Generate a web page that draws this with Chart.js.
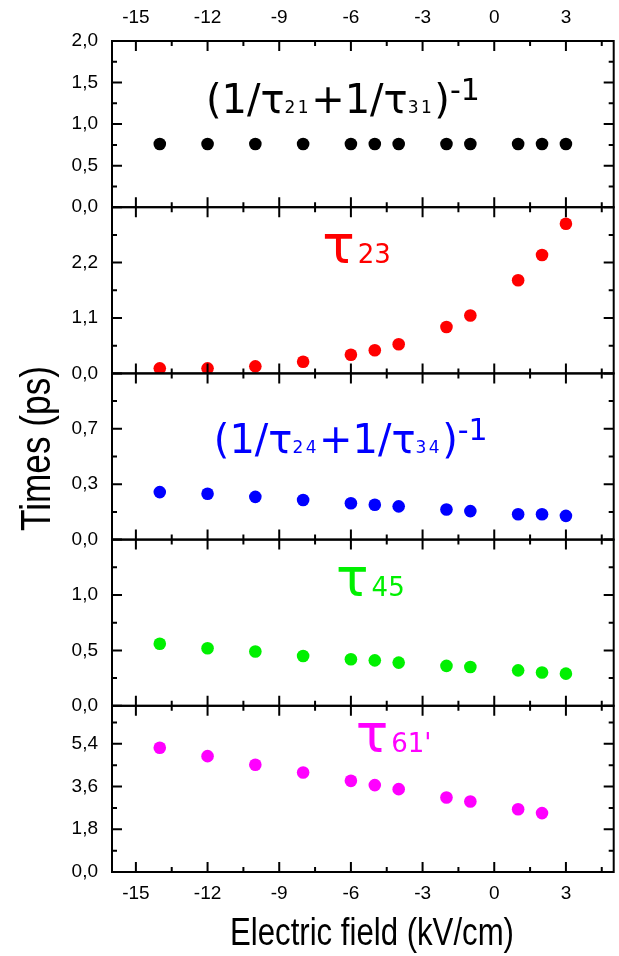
<!DOCTYPE html>
<html>
<head>
<meta charset="utf-8">
<script src="https://cdn.jsdelivr.net/npm/chart.js@4.4.1/dist/chart.umd.min.js"></script>
<style>
  html, body { margin: 0; padding: 0; background: #fff; overflow: hidden; }
  #wrap { width: 619px; height: 956px; overflow: hidden; }
</style>
</head>
<body>
<div id="wrap"><canvas id="times" width="620" height="956"></canvas></div>
<script>
// electric field values (kV/cm) shared by all five panels
const field = [-14, -12, -10, -8, -6, -5, -4, -2, -1, 1, 2, 3];

// lifetimes in ps, one array per panel (top to bottom)
const tau2131 = [0.76, 0.76, 0.76, 0.76, 0.76, 0.76, 0.76, 0.76, 0.76, 0.76, 0.76, 0.76];
const tau23 = [0.10, 0.10, 0.14, 0.23, 0.37, 0.46, 0.58, 0.92, 1.15, 1.85, 2.35, 2.97];
const tau2434 = [0.30, 0.29, 0.27, 0.25, 0.23, 0.22, 0.21, 0.19, 0.18, 0.16, 0.16, 0.15];
const tau45 = [0.56, 0.52, 0.49, 0.45, 0.42, 0.41, 0.39, 0.36, 0.35, 0.32, 0.30, 0.29];
const tau61 = [5.23, 4.88, 4.52, 4.19, 3.84, 3.66, 3.49, 3.14, 2.97, 2.64, 2.48]; // nothing at 3 kV/cm

// axis ticks
const xTicks = [-15, -12, -9, -6, -3, 0, 3];
const yTicks1 = [0, 0.5, 1.0, 1.5, 2.0];
const yTicks2 = [0, 1.1, 2.2];
const yTicks3 = [0, 0.35, 0.7];
const yTicks4 = [0, 0.5, 1.0];
const yTicks5 = [0, 1.8, 3.6, 5.4];
const yMax = [2.0, 3.3, 1.05, 1.5, 7.0];

const series = [tau2131, tau23, tau2434, tau45, tau61];
const tickSets = [yTicks1, yTicks2, yTicks3, yTicks4, yTicks5];
const colors = ['#000000', '#ff0000', '#0000ff', '#00f000', '#ff00ff'];
const yIds = ['y1', 'y2', 'y3', 'y4', 'y5'];

const plain = "'Liberation Sans', Arial, sans-serif";

Chart.defaults.color = '#000';

// panel labels, placed in data coordinates of their panel
const noteFonts = {
  main: { size: 40 },
  sub:  { size: 17, spacing: 2.5 },
  sup:  { size: 30, rise: 13 },
  tau:  { size: 54, gap: 3 },
  tsub: { size: 26 }
};
const notes = [
  { axis: 'y1', x: -12.07, y: 1.13, color: colors[0],
    parts: [['(1/', 'main'], ['τ', 'main'], ['21', 'sub'], ['+1/', 'main'], ['τ', 'main'], ['31', 'sub'], [')', 'main'], ['-1', 'sup']] },
  { axis: 'y2', x: -7.2, y: 2.19, color: colors[1], parts: [['τ', 'tau'], ['23', 'tsub']] },
  { axis: 'y3', x: -11.74, y: 0.544, color: colors[2],
    parts: [['(1/', 'main'], ['τ', 'main'], ['24', 'sub'], ['+1/', 'main'], ['τ', 'main'], ['34', 'sub'], [')', 'main'], ['-1', 'sup']] },
  { axis: 'y4', x: -6.62, y: 0.994, color: colors[3], parts: [['τ', 'tau'], ['45', 'tsub']] },
  { axis: 'y5', x: -5.8, y: 5.06, color: colors[4], parts: [['τ', 'tau'], ["61'", 'tsub']] }
];

// boxes with inward ticks on all four sides of every panel
const panelFrames = {
  id: 'panelFrames',
  afterDatasetsDraw(chart) {
    const { ctx, chartArea: { left, right } } = chart;
    const sx = chart.scales.x;
    const xMinor = [];
    for (let v = xTicks[0] - 1.5; v < sx.max; v += 3) if (v > sx.min) xMinor.push(v);
    ctx.save();
    ctx.strokeStyle = '#000';
    ctx.lineWidth = 2;
    yIds.forEach((id, i) => {
      const s = chart.scales[id];
      const ticks = tickSets[i];
      const step = ticks[1] - ticks[0];
      const yMinor = [];
      for (let v = step / 2; v < s.max - 1e-9; v += step) yMinor.push(v);
      ctx.beginPath();
      xTicks.forEach(v => {
        const p = sx.getPixelForValue(v);
        ctx.moveTo(p, s.bottom); ctx.lineTo(p, s.bottom - 10);
        ctx.moveTo(p, s.top); ctx.lineTo(p, s.top + 10);
      });
      xMinor.forEach(v => {
        const p = sx.getPixelForValue(v);
        ctx.moveTo(p, s.bottom); ctx.lineTo(p, s.bottom - 5);
        ctx.moveTo(p, s.top); ctx.lineTo(p, s.top + 5);
      });
      ticks.forEach(v => {
        const p = s.getPixelForValue(v);
        ctx.moveTo(left, p); ctx.lineTo(left + 10, p);
        ctx.moveTo(right, p); ctx.lineTo(right - 10, p);
      });
      yMinor.forEach(v => {
        const p = s.getPixelForValue(v);
        ctx.moveTo(left, p); ctx.lineTo(left + 5, p);
        ctx.moveTo(right, p); ctx.lineTo(right - 5, p);
      });
      ctx.stroke();
      ctx.strokeRect(left, s.top, right - left, s.bottom - s.top);
    });
    ctx.restore();
  }
};

const panelNotes = {
  id: 'panelNotes',
  afterDatasetsDraw(chart) {
    const ctx = chart.ctx;
    ctx.save();
    ctx.textAlign = 'left';
    ctx.textBaseline = 'alphabetic';
    notes.forEach(note => {
      let px = chart.scales.x.getPixelForValue(note.x);
      const base = chart.scales[note.axis].getPixelForValue(note.y);
      ctx.fillStyle = note.color;
      note.parts.forEach(([txt, kind]) => {
        const f = noteFonts[kind];
        ctx.font = f.size + "px 'DejaVu Sans'";
        ctx.letterSpacing = (f.spacing || 0) + 'px';
        ctx.fillText(txt, px, base - (f.rise || 0));
        px += ctx.measureText(txt).width + (f.gap || 0);
      });
    });
    ctx.restore();
  }
};

// axis titles in a narrow face (Arial metrics squeezed horizontally)
const axisTitles = {
  id: 'axisTitles',
  afterDraw(chart) {
    const { ctx, chartArea } = chart;
    const narrowText = (txt, size, x, y, rot) => {
      ctx.save();
      ctx.translate(x, y);
      ctx.rotate(rot);
      ctx.scale(0.82, 1);
      ctx.font = size + 'px ' + plain;
      ctx.fillStyle = '#000';
      ctx.textAlign = 'center';
      ctx.textBaseline = 'alphabetic';
      ctx.fillText(txt, 0, 0);
      ctx.restore();
    };
    narrowText('Electric field (kV/cm)', 38, 372, 945, 0);
    narrowText('Times (ps)', 43, 50, (chartArea.top + chartArea.bottom) / 2 - 8, -Math.PI / 2);
  }
};

const tickFont = { family: plain, size: 19 };

const scales = {
  x: {
    type: 'linear', position: 'bottom', min: -16, max: 5,
    grid: { display: false, drawTicks: false }, border: { display: false },
    afterBuildTicks: s => { s.ticks = xTicks.map(v => ({ value: v })); },
    afterFit: s => { s.height = 84; },
    ticks: { font: tickFont, padding: 10, maxRotation: 0, autoSkip: false, callback: v => String(v) }
  },
  xTop: {
    type: 'linear', position: 'top', min: -16, max: 5,
    grid: { display: false, drawTicks: false }, border: { display: false },
    afterBuildTicks: s => { s.ticks = xTicks.map(v => ({ value: v })); },
    afterFit: s => { s.height = 41; },
    ticks: { font: tickFont, padding: 12, maxRotation: 0, autoSkip: false, callback: v => String(v) }
  }
};

yIds.forEach((id, i) => {
  scales[id] = {
    type: 'linear', position: 'left', stack: 'panels', stackWeight: 1, weight: 5 - i,
    min: 0, max: yMax[i], offset: false,
    grid: { display: false, drawTicks: false }, border: { display: false },
    afterBuildTicks: s => { s.ticks = tickSets[i].map(v => ({ value: v })); },
    afterFit: s => { s.width = 112; },
    ticks: { font: tickFont, padding: 14, autoSkip: false,
             callback: v => v.toFixed(1).replace('.', ',') }
  };
});

const datasets = series.map((vals, i) => ({
  data: vals.map((v, k) => ({ x: field[k], y: v })),
  yAxisID: yIds[i],
  xAxisID: 'x',
  backgroundColor: colors[i],
  borderWidth: 0,
  pointRadius: 6.3,
  showLine: false
}));

new Chart(document.getElementById('times'), {
  type: 'scatter',
  data: { datasets },
  options: {
    responsive: false,
    animation: false,
    layout: { padding: 0 },
    scales,
    plugins: {
      legend: { display: false },
      tooltip: { enabled: false }
    }
  },
  plugins: [panelFrames, panelNotes, axisTitles]
});
</script>
</body>
</html>
